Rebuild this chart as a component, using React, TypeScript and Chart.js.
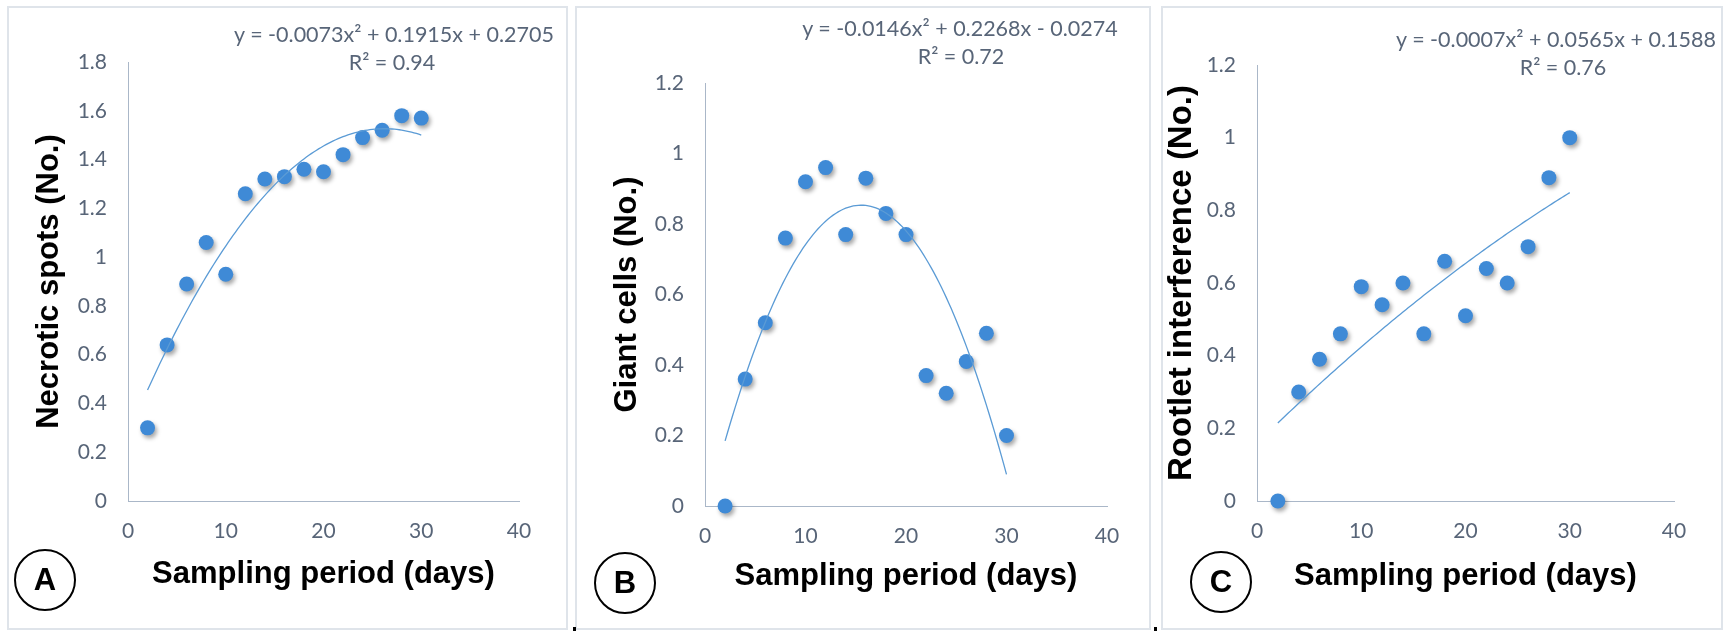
import React, { useEffect, useRef } from "react";
import { Chart, registerables } from "chart.js";
Chart.register(...registerables);

// ---------- data ----------
const days = [2, 4, 6, 8, 10, 12, 14, 16, 18, 20, 22, 24, 26, 28, 30];
const necroticSpots = [0.3, 0.64, 0.89, 1.06, 0.93, 1.26, 1.32, 1.33, 1.36, 1.35, 1.42, 1.49, 1.52, 1.58, 1.57];
const giantCells = [0, 0.36, 0.52, 0.76, 0.92, 0.96, 0.77, 0.93, 0.83, 0.77, 0.37, 0.32, 0.41, 0.49, 0.2];
const rootletInterference = [0, 0.3, 0.39, 0.46, 0.59, 0.54, 0.6, 0.46, 0.66, 0.51, 0.64, 0.6, 0.7, 0.89, 1.0];

const xTicks = [0, 10, 20, 30, 40];
const yTicksA = [0, 0.2, 0.4, 0.6, 0.8, 1, 1.2, 1.4, 1.6, 1.8];
const yTicksBC = [0, 0.2, 0.4, 0.6, 0.8, 1, 1.2];

// polynomial trendline coefficients [x², x, const] (x = sampling number)
const trendA = [-0.0073, 0.1915, 0.2705];
const trendB = [-0.0146, 0.2268, -0.0274];
const trendC = [-0.0007, 0.0565, 0.1588];

const eqA = "y = -0.0073x² + 0.1915x + 0.2705";
const eqB = "y = -0.0146x² + 0.2268x - 0.0274";
const eqC = "y = -0.0007x² + 0.0565x + 0.1588";
const r2A = "R² = 0.94";
const r2B = "R² = 0.72";
const r2C = "R² = 0.76";

const xTitle = "Sampling period (days)";
const yTitleA = "Necrotic spots (No.)";
const yTitleB = "Giant cells (No.)";
const yTitleC = "Rootlet interference (No.)";

// ---------- styles ----------
const TICK_COLOR = "#586578";
const AXIS_COLOR = "#aab7c8";
const DOT_COLOR = "#3f8ad6";
const TREND_COLOR = "#5b9bd5";
const TICK_FONT = { family: "Lato, 'Open Sans', sans-serif", size: 21 };
const TITLE_FAMILY = "'Liberation Sans', Arial, sans-serif";

function trendPoints(coef: number[]) {
  const pts: { x: number; y: number }[] = [];
  const first = 1;
  const last = days.length;
  for (let k = first * 8; k <= last * 8; k++) {
    const i = k / 8;
    const y = coef[0] * i * i + coef[1] * i + coef[2];
    pts.push({ x: days[0] * i, y });
  }
  return pts;
}

const shadowPlugin = {
  id: "dotShadow",
  beforeDatasetDraw(chart: any, args: any) {
    if (args.index === 1) {
      const ctx = chart.ctx;
      ctx.save();
      ctx.shadowColor = "rgba(0,0,0,0.35)";
      ctx.shadowBlur = 4;
      ctx.shadowOffsetX = 2;
      ctx.shadowOffsetY = 3;
    }
  },
  afterDatasetDraw(chart: any, args: any) {
    if (args.index === 1) chart.ctx.restore();
  },
};

type Panel = {
  left: number;
  width: number;
  top: number;
  right: number;
  yAxisW: number;
  xAxisH: number;
  yTitleMid: number;
  yTitleSize: number;
  xTitlePad: number;
  values: number[];
  yTicks: number[];
  yMax: number;
  coef: number[];
  yTitle: string;
};

const panels: Panel[] = [
  { left: 0, width: 572, top: 62, right: 53, yAxisW: 128, xAxisH: 130, yTitleMid: 49, yTitleSize: 31, xTitlePad: 38, values: necroticSpots, yTicks: yTicksA, yMax: 1.8, coef: trendA, yTitle: yTitleA },
  { left: 575, width: 580, top: 83, right: 48, yAxisW: 130, xAxisH: 125, yTitleMid: 52, yTitleSize: 31, xTitlePad: 36, values: giantCells, yTicks: yTicksBC, yMax: 1.2, coef: trendB, yTitle: yTitleB },
  { left: 1156, width: 570, top: 65, right: 52, yAxisW: 101, xAxisH: 130, yTitleMid: 26, yTitleSize: 33, xTitlePad: 36, values: rootletInterference, yTicks: yTicksBC, yMax: 1.2, coef: trendC, yTitle: yTitleC },
];

function ChartPanel({ p }: { p: Panel }) {
  const ref = useRef<HTMLCanvasElement>(null);
  useEffect(() => {
    if (!ref.current) return;
    const chart = new Chart(ref.current, {
      type: "scatter",
      data: {
        datasets: [
          {
            data: trendPoints(p.coef),
            showLine: true,
            borderColor: TREND_COLOR,
            borderWidth: 1.3,
            pointRadius: 0,
            pointHoverRadius: 0,
            order: 0,
          } as any,
          {
            data: days.map((d, i) => ({ x: d, y: p.values[i] })),
            backgroundColor: DOT_COLOR,
            borderColor: DOT_COLOR,
            borderWidth: 0,
            pointRadius: 7.5,
            pointHoverRadius: 7.5,
            clip: false,
            order: 1,
          } as any,
        ],
      },
      options: {
        responsive: false,
        animation: false,
        events: [],
        layout: { padding: { left: 0, top: p.top, right: p.right, bottom: 0 } },
        plugins: { legend: { display: false }, tooltip: { enabled: false } },
        scales: {
          x: {
            type: "linear",
            min: 0,
            max: 40,
            afterBuildTicks: (s: any) => {
              s.ticks = xTicks.map((v) => ({ value: v }));
            },
            afterFit: (s: any) => {
              s.height = p.xAxisH;
            },
            grid: { display: false, drawTicks: false },
            border: { display: true, color: AXIS_COLOR, width: 1 },
            ticks: { font: TICK_FONT, color: TICK_COLOR, padding: 18, maxRotation: 0, callback: (v: any) => String(v) },
            title: {
              display: true,
              text: xTitle,
              color: "#000",
              font: { family: TITLE_FAMILY, size: 31, weight: "bold", lineHeight: 1.2 },
              padding: { top: 0, bottom: p.xTitlePad },
            },
          },
          y: {
            type: "linear",
            min: 0,
            max: p.yMax,
            afterBuildTicks: (s: any) => {
              s.ticks = p.yTicks.map((v) => ({ value: v }));
            },
            afterFit: (s: any) => {
              s.width = p.yAxisW;
            },
            grid: { display: false, drawTicks: false },
            border: { display: true, color: AXIS_COLOR, width: 1 },
            ticks: { font: TICK_FONT, color: TICK_COLOR, padding: 21, callback: (v: any) => String(v) },
            title: {
              display: true,
              text: p.yTitle,
              color: "#000",
              font: { family: TITLE_FAMILY, size: p.yTitleSize, weight: "bold", lineHeight: 1.2 },
              padding: { top: p.yTitleMid - (p.yTitleSize * 1.2) / 2, bottom: 0 },
            },
          },
        },
      } as any,
      plugins: [shadowPlugin],
    });
    return () => chart.destroy();
  }, [p]);
  return (
    <canvas
      ref={ref}
      width={p.width}
      height={631}
      style={{ position: "absolute", left: p.left, top: 0, width: p.width, height: 631 }}
    />
  );
}

const boxes = [
  { left: 7, width: 561 },
  { left: 575, width: 576 },
  { left: 1161, width: 562 },
];

const labels = [
  { text: "A", cx: 45, cy: 580 },
  { text: "B", cx: 625, cy: 583 },
  { text: "C", cx: 1221, cy: 582 },
];

const equations = [
  { eq: eqA, r2: r2A, cx: 394, cy: 35, rx: 392, ry: 63 },
  { eq: eqB, r2: r2B, cx: 960, cy: 29, rx: 961, ry: 57 },
  { eq: eqC, r2: r2C, cx: 1556, cy: 40, rx: 1563, ry: 68 },
];

const textStyle = (cx: number, cy: number): React.CSSProperties => ({
  position: "absolute",
  left: cx,
  top: cy,
  transform: "translate(-50%, -50%)",
  whiteSpace: "nowrap",
  fontFamily: "Lato, 'Open Sans', sans-serif",
  fontSize: 21.5,
  lineHeight: "1",
  color: TICK_COLOR,
});

export default function App() {
  return (
    <div style={{ position: "absolute", left: 0, top: 0, width: 1726, height: 631, background: "#fff", overflow: "hidden" }}>
      {boxes.map((b, i) => (
        <div
          key={"b" + i}
          style={{
            position: "absolute",
            left: b.left,
            top: 6,
            width: b.width,
            height: 624,
            border: "2px solid #dfe4ea",
            boxSizing: "border-box",
          }}
        />
      ))}
      <div style={{ position: "absolute", left: 573, top: 627, width: 3, height: 4, background: "#000" }} />
      <div style={{ position: "absolute", left: 1154, top: 627, width: 3, height: 4, background: "#000" }} />
      {panels.map((p, i) => (
        <ChartPanel key={"c" + i} p={p} />
      ))}
      {equations.map((e, i) => (
        <React.Fragment key={"e" + i}>
          <div style={textStyle(e.cx, e.cy)}>{e.eq}</div>
          <div style={textStyle(e.rx, e.ry)}>{e.r2}</div>
        </React.Fragment>
      ))}
      {labels.map((l, i) => (
        <div
          key={"l" + i}
          style={{
            position: "absolute",
            left: l.cx - 31,
            top: l.cy - 31,
            width: 62,
            height: 62,
            border: "2px solid #000",
            borderRadius: "50%",
            boxSizing: "border-box",
            display: "flex",
            alignItems: "center",
            justifyContent: "center",
            fontFamily: TITLE_FAMILY,
            fontWeight: "bold",
            fontSize: 31,
            color: "#000",
          }}
        >
          {l.text}
        </div>
      ))}
    </div>
  );
}
